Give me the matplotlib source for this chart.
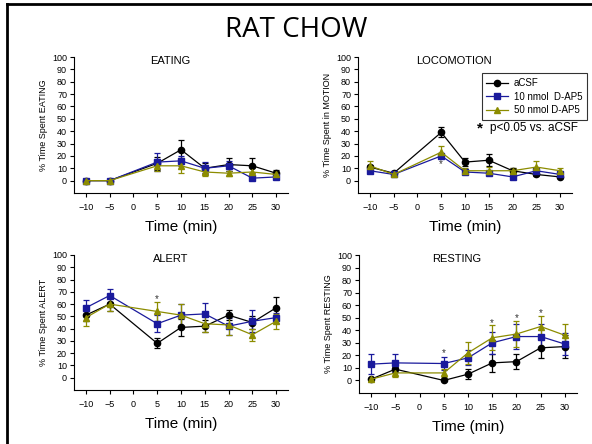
import numpy as np
import matplotlib.pyplot as plt
from matplotlib.lines import Line2D

plt.rcParams['font.family'] = ['Liberation Sans', 'DejaVu Sans']

# time points (min)
time = [-10, -5, 5, 10, 15, 20, 25, 30]

# EATING
eat_acsf = [0, 0, 14, 25, 10, 13, 12, 6]
eat_acsf_err = [0.5, 0.5, 5, 8, 4, 5, 6, 3]
eat_10 = [0, 0, 15, 16, 10, 12, 2, 3]
eat_10_err = [0.5, 0.5, 7, 4, 5, 4, 1, 1]
eat_50 = [0, 0, 12, 12, 7, 6, 7, 5]
eat_50_err = [0.5, 0.5, 4, 6, 3, 2, 3, 2]

# LOCOMOTION
loc_acsf = [11, 6, 39, 15, 16.5, 8, 5, 3]
loc_acsf_err = [2, 1, 4, 3, 5, 2, 1, 1]
loc_10 = [8, 5, 20, 7, 6, 3, 8, 5]
loc_10_err = [2, 1, 2, 1, 1, 1, 2, 1]
loc_50 = [12, 5, 23, 8, 8, 8, 11, 8]
loc_50_err = [4, 1, 5, 2, 3, 2, 5, 2]

# ALERT
alr_acsf = [51, 60, 28, 41, 42, 51, 45, 57]
alr_acsf_err = [5, 6, 4, 7, 5, 4, 5, 9]
alr_10 = [57, 67, 44, 51, 52, 42, 46, 49]
alr_10_err = [6, 5, 7, 9, 9, 7, 9, 4]
alr_50 = [49, 60, 54, 51, 44, 43, 35, 46]
alr_50_err = [7, 6, 8, 9, 7, 8, 5, 6]

# RESTING
rst_acsf = [1, 9, 0, 5, 14, 15, 26, 27]
rst_acsf_err = [1, 2, 0.5, 4, 7, 6, 8, 9]
rst_10 = [13, 14, 13.5, 18, 30, 35, 35, 29]
rst_10_err = [8, 7, 5, 6, 9, 10, 10, 9]
rst_50 = [1, 6, 6, 22, 34, 37, 43, 36]
rst_50_err = [1, 3, 3, 9, 10, 10, 8, 9]

# significance stars (x, y)
loc_stars = [(5, 13)]
alr_stars = [(5, 64)]
rst_stars = [(5, 22), (15, 46), (20, 50), (25, 54)]

labels = ['aCSF', '10 nmol  D-AP5', '50 nmol D-AP5']
colors = ['black', '#1a1a9c', '#8c8c00']
markers = ['o', 's', '^']

W, H = 592, 444
fig = plt.figure(figsize=(5.92, 4.44), dpi=100)


def make_ax(left, top, right, bottom):
    return fig.add_axes([left / W, 1 - bottom / H, (right - left) / W, (bottom - top) / H])


def panel(ax, title, ylabel, series, stars):
    for (y, e), lab, c, m in zip(series, labels, colors, markers):
        ax.errorbar(time, y, yerr=e, color=c, marker=m, markersize=4.5, lw=0.9,
                    elinewidth=0.9, capsize=2, capthick=0.9, label=lab)
    for sx, sy in stars:
        ax.text(sx, sy, '*', ha='center', va='center', fontsize=7, color='#333333')
    ax.set_xlim(-12.5, 32.5)
    ax.set_ylim(-10, 100)
    ax.set_xticks(range(-10, 31, 5))
    ax.set_yticks(range(0, 101, 10))
    ax.tick_params(labelsize=6.5, length=3, width=0.8, pad=2)
    ax.tick_params(axis='x', pad=4)
    for s in ['top', 'right']:
        ax.spines[s].set_visible(False)
    for s in ['left', 'bottom']:
        ax.spines[s].set_linewidth(0.8)
    ax.set_ylabel(ylabel, fontsize=6.5, labelpad=3)
    ax.set_xlabel('Time (min)', fontsize=11, labelpad=6)
    ax.text(0.45, 0.97, title, transform=ax.transAxes, ha='center', va='center', fontsize=8)


ax1 = make_ax(74, 57, 288, 193)
panel(ax1, 'EATING', '% Time Spent EATING',
      [(eat_acsf, eat_acsf_err), (eat_10, eat_10_err), (eat_50, eat_50_err)], [])

ax2 = make_ax(358, 57, 572, 193)
panel(ax2, 'LOCOMOTION', '% Time Spent in MOTION',
      [(loc_acsf, loc_acsf_err), (loc_10, loc_10_err), (loc_50, loc_50_err)], loc_stars)
handles = [Line2D([], [], color=c, marker=m, markersize=4.5, lw=0.9)
           for c, m in zip(colors, markers)]
leg = ax2.legend(handles, labels, loc='upper right', bbox_to_anchor=(1.07, 0.88),
                 fontsize=7, frameon=True, fancybox=False, edgecolor='black',
                 borderpad=0.5, handlelength=2.2, handletextpad=0.6,
                 labelspacing=0.35, borderaxespad=0)
leg.get_frame().set_linewidth(0.8)
ax2.text(0.57, 0.475, '*', transform=ax2.transAxes, ha='center', va='center',
         fontsize=11, fontweight='bold')
ax2.text(0.615, 0.48, 'p<0.05 vs. aCSF', transform=ax2.transAxes, ha='left',
         va='center', fontsize=8.5)

ax3 = make_ax(74, 255, 288, 390)
panel(ax3, 'ALERT', '% Time Spent ALERT',
      [(alr_acsf, alr_acsf_err), (alr_10, alr_10_err), (alr_50, alr_50_err)], alr_stars)

ax4 = make_ax(359, 255, 577, 393)
panel(ax4, 'RESTING', '% Time Spent RESTING',
      [(rst_acsf, rst_acsf_err), (rst_10, rst_10_err), (rst_50, rst_50_err)], rst_stars)

fig.text(0.5, 1 - 30 / H, 'RAT CHOW', ha='center', va='center', fontsize=20,
         family=['Open Sans', 'DejaVu Sans'])

# slide frame (top and left edges)
fig.add_artist(Line2D([7 / W, 7 / W], [0, 1 - 4 / H], color='black', lw=2,
                      transform=fig.transFigure))
fig.add_artist(Line2D([7 / W, 1], [1 - 4 / H, 1 - 4 / H], color='black', lw=2,
                      transform=fig.transFigure))

fig.savefig('out.png', dpi=100)
